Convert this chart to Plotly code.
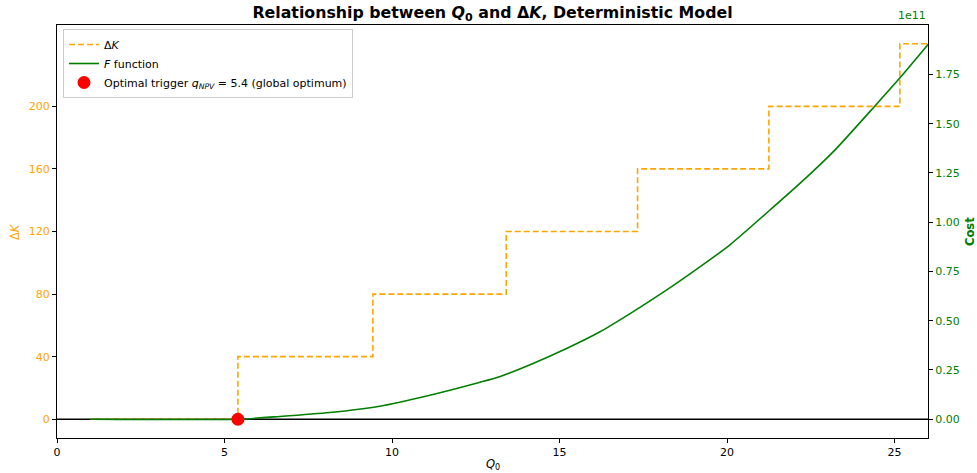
import plotly.graph_objects as go

# ---- data ----
step_q0 = [1.0, 5.4, 9.43, 13.41, 17.33, 21.25, 25.16, 26.0]
delta_k = [0, 40, 80, 120, 160, 200, 240, 240]

cost_q0 = [1.0, 5.4, 6.65, 8.14, 9.63, 11.13, 12.63, 13.21, 14.21, 15.21, 16.21,
           17.19, 18.19, 19.18, 20.08, 21.37, 22.47, 23.27, 24.41, 25.19, 26.0]
cost_e11 = [0, 0, 0.014, 0.034, 0.066, 0.122, 0.188, 0.216, 0.283, 0.359, 0.444,
            0.545, 0.655, 0.772, 0.884, 1.075, 1.243, 1.375, 1.589, 1.738, 1.902]
cost = [c * 1e11 for c in cost_e11]

opt_q = [5.4]
opt_k = [0]

x_ticks = [0, 5, 10, 15, 20, 25]
left_ticks = [0, 40, 80, 120, 160, 200]
right_ticks_e11 = [0.0, 0.25, 0.5, 0.75, 1.0, 1.25, 1.5, 1.75]

ORANGE = "#FFA500"
GREEN = "#008000"
FONT = "DejaVu Sans"

L, R, T, B = 57, 49, 25, 35
W, H = 977, 473
PW, PH = W - L - R, H - T - B

fig = go.Figure()

fig.add_trace(go.Scatter(
    x=step_q0, y=delta_k, mode="lines", line_shape="hv",
    line=dict(color=ORANGE, width=1.6, dash="6px,3px"),
    name="Δ<i>K</i>", yaxis="y"))

fig.add_trace(go.Scatter(
    x=cost_q0, y=cost, mode="lines", line_shape="spline",
    line=dict(color=GREEN, width=1.6, smoothing=0.6),
    name="<i>F</i> function", yaxis="y2"))

fig.add_trace(go.Scatter(
    x=opt_q, y=opt_k, mode="markers",
    marker=dict(color="red", size=13),
    name="Optimal trigger <i>q</i><sub><i>NPV</i></sub> = 5.4 (global optimum)",
    yaxis="y3"))

fig.add_shape(type="line", xref="paper", x0=0, x1=1, yref="y", y0=0, y1=0,
              line=dict(color="black", width=1.5), layer="below")

fig.update_layout(
    width=W, height=H,
    margin=dict(l=L, r=R, t=T, b=B, autoexpand=False),
    paper_bgcolor="white", plot_bgcolor="white",
    font=dict(family=FONT, size=11, color="black"),
    title=dict(
        text="<b>Relationship between <i>Q</i><sub>0</sub> and Δ<i>K</i>, Deterministic Model</b>",
        x=(L + PW / 2) / W, xref="container", xanchor="center",
        y=1 - 12 / H, yanchor="middle",
        font=dict(family=FONT, size=15.8, color="black")),
    xaxis=dict(range=[0, 26], tickvals=x_ticks, ticks="outside", ticklen=4,
               tickcolor="black", showline=True, linecolor="black", linewidth=1.2,
               mirror=True, showgrid=False, zeroline=False, automargin=False,
               tickfont=dict(size=11, color="black")),
    yaxis=dict(range=[-12, 252], tickvals=left_ticks, ticks="outside", ticklen=4,
               tickcolor="black", showline=True, linecolor="black", linewidth=1.2,
               showgrid=False, zeroline=False, automargin=False,
               tickfont=dict(size=11, color=ORANGE)),
    yaxis2=dict(range=[-0.0953e11, 2.001e11], overlaying="y", side="right",
                tickvals=[t * 1e11 for t in right_ticks_e11],
                ticktext=[f"{t:.2f}" for t in right_ticks_e11],
                ticks="outside", ticklen=4, tickcolor="black",
                showline=True, linecolor="black", linewidth=1.2,
                showgrid=False, zeroline=False, automargin=False,
                tickfont=dict(size=11, color=GREEN)),
    yaxis3=dict(range=[-12, 252], overlaying="y", visible=False),
    showlegend=True,
    legend=dict(x=(63 - L) / PW, y=1 - (29 - T) / PH, xanchor="left", yanchor="top",
                bgcolor="rgba(255,255,255,0.8)", bordercolor="#cccccc",
                borderwidth=1, font=dict(size=11, color="black"),
                tracegroupgap=0, itemwidth=30),
)

# axis titles
fig.add_annotation(text="<i>Q</i><sub>0</sub>", xref="paper", yref="paper",
                   x=0.5, y=-(464 - (H - B)) / PH, yanchor="middle",
                   showarrow=False, font=dict(size=11.5, color="black"))
fig.add_annotation(text="Δ<i>K</i>", xref="paper", yref="paper",
                   x=-(L - 15) / PW, y=(H - B - 232) / PH, textangle=-90,
                   xanchor="center", yanchor="middle",
                   showarrow=False, font=dict(size=11.5, color=ORANGE))
fig.add_annotation(text="<b>Cost</b>", xref="paper", yref="paper",
                   x=1 + (970 - (W - R)) / PW, y=(H - B - 232) / PH, textangle=-90,
                   xanchor="center", yanchor="middle",
                   showarrow=False, font=dict(size=11.5, color=GREEN))
fig.add_annotation(text="1e11", xref="paper", yref="paper", x=1, y=1,
                   xanchor="right", yanchor="bottom", yshift=1, showarrow=False,
                   font=dict(size=11, color=GREEN))

fig.write_html("out.html", config={"displayModeBar": False},
               post_script="document.body.style.margin='0';document.body.style.overflow='hidden';")
